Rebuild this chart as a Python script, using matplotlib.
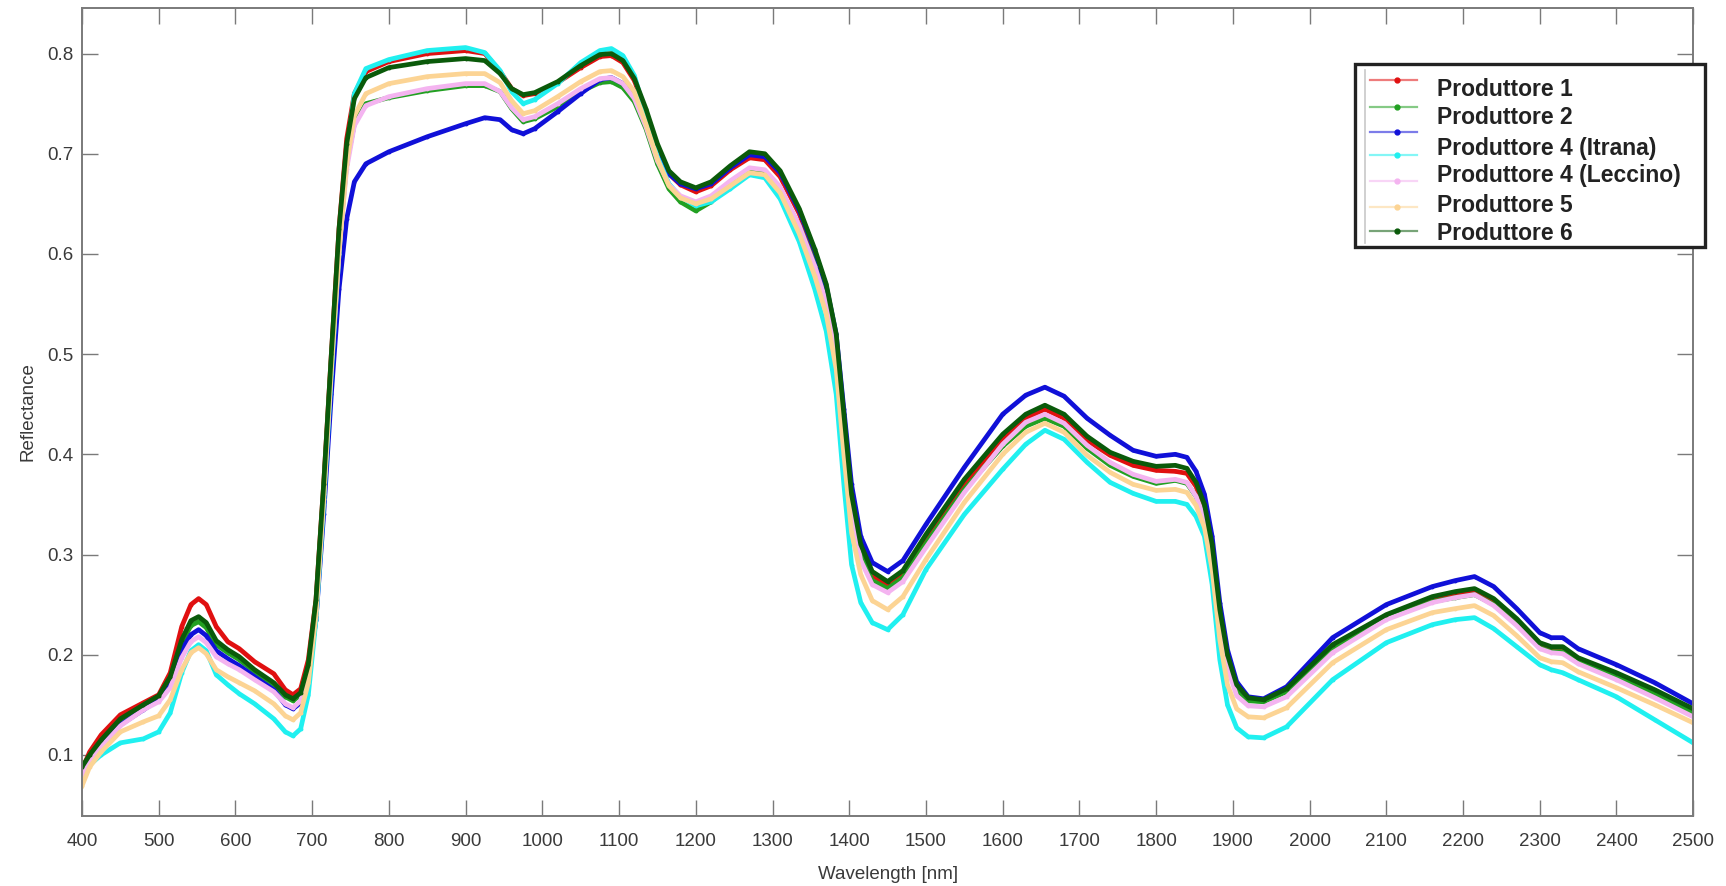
import numpy as np
import matplotlib
matplotlib.use("Agg")
import matplotlib.pyplot as plt
from matplotlib.lines import Line2D
from matplotlib.patches import Rectangle

plt.rcParams['font.family'] = ['Liberation Sans', 'DejaVu Sans']

# === DATI ===
wavelength = [400, 410, 425, 450, 480, 500, 515, 530, 542, 552,
              562, 575, 590, 605, 625, 650, 665, 675, 685, 695,
              705, 715, 725, 735, 745, 755, 770, 800, 850, 900,
              925, 945, 960, 975, 990, 1020, 1050, 1075, 1090, 1105,
              1120, 1135, 1150, 1165, 1180, 1200, 1220, 1245, 1270, 1290,
              1310, 1335, 1355, 1370, 1383, 1393, 1403, 1415, 1430, 1450,
              1470, 1500, 1550, 1600, 1630, 1655, 1680, 1710, 1740, 1770,
              1800, 1825, 1840, 1852, 1863, 1873, 1883, 1893, 1905, 1920,
              1940, 1970, 2030, 2100, 2160, 2190, 2215, 2240, 2270, 2300,
              2315, 2330, 2350, 2400, 2450, 2500]

red = [0.085, 0.103, 0.120, 0.140, 0.152, 0.160, 0.182, 0.228, 0.250, 0.256,
       0.250, 0.228, 0.213, 0.206, 0.193, 0.181, 0.165, 0.160, 0.166, 0.195,
       0.255, 0.37, 0.50, 0.625, 0.715, 0.760, 0.782, 0.792, 0.800, 0.803,
       0.800, 0.782, 0.765, 0.758, 0.760, 0.771, 0.786, 0.797, 0.798, 0.791,
       0.773, 0.742, 0.706, 0.680, 0.669, 0.662, 0.668, 0.684, 0.696, 0.694,
       0.677, 0.640, 0.600, 0.565, 0.515, 0.435, 0.355, 0.305, 0.279, 0.270,
       0.281, 0.316, 0.371, 0.416, 0.436, 0.445, 0.436, 0.414, 0.399, 0.389,
       0.384, 0.383, 0.381, 0.368, 0.346, 0.306, 0.242, 0.198, 0.168, 0.156,
       0.154, 0.165, 0.208, 0.238, 0.256, 0.261, 0.264, 0.254, 0.234, 0.210,
       0.206, 0.206, 0.195, 0.180, 0.163, 0.144]

green = [0.083, 0.098, 0.113, 0.134, 0.148, 0.157, 0.175, 0.212, 0.229, 0.233,
         0.227, 0.210, 0.202, 0.195, 0.183, 0.170, 0.158, 0.154, 0.160, 0.188,
         0.250, 0.365, 0.495, 0.610, 0.690, 0.730, 0.750, 0.756, 0.763, 0.768,
         0.768, 0.762, 0.745, 0.732, 0.735, 0.747, 0.762, 0.771, 0.772, 0.766,
         0.752, 0.725, 0.690, 0.665, 0.652, 0.643, 0.652, 0.668, 0.682, 0.681,
         0.664, 0.628, 0.590, 0.555, 0.505, 0.425, 0.350, 0.300, 0.274, 0.266,
         0.277, 0.311, 0.365, 0.408, 0.428, 0.436, 0.428, 0.406, 0.389, 0.378,
         0.371, 0.374, 0.371, 0.358, 0.337, 0.298, 0.236, 0.193, 0.165, 0.154,
         0.153, 0.163, 0.205, 0.236, 0.253, 0.257, 0.260, 0.250, 0.230, 0.207,
         0.203, 0.203, 0.193, 0.178, 0.161, 0.142]

blue = [0.085, 0.098, 0.112, 0.130, 0.145, 0.155, 0.172, 0.205, 0.220, 0.225,
        0.219, 0.204, 0.196, 0.189, 0.178, 0.165, 0.150, 0.146, 0.152, 0.180,
        0.235, 0.34, 0.46, 0.565, 0.635, 0.672, 0.690, 0.702, 0.717, 0.730,
        0.736, 0.734, 0.724, 0.720, 0.725, 0.742, 0.760, 0.774, 0.776, 0.770,
        0.757, 0.735, 0.703, 0.680, 0.670, 0.665, 0.670, 0.686, 0.699, 0.697,
        0.681, 0.643, 0.603, 0.568, 0.520, 0.445, 0.370, 0.318, 0.292, 0.283,
        0.294, 0.330, 0.387, 0.440, 0.459, 0.467, 0.458, 0.436, 0.419, 0.404,
        0.398, 0.400, 0.397, 0.383, 0.360, 0.318, 0.252, 0.205, 0.173, 0.158,
        0.156, 0.168, 0.217, 0.250, 0.268, 0.274, 0.278, 0.268, 0.246, 0.222,
        0.217, 0.217, 0.206, 0.190, 0.172, 0.151]

cyan = [0.076, 0.090, 0.100, 0.112, 0.116, 0.123, 0.142, 0.182, 0.204, 0.210,
        0.204, 0.180, 0.170, 0.161, 0.151, 0.136, 0.123, 0.119, 0.126, 0.160,
        0.235, 0.35, 0.48, 0.600, 0.700, 0.760, 0.785, 0.794, 0.803, 0.806,
        0.801, 0.783, 0.762, 0.750, 0.754, 0.770, 0.791, 0.803, 0.805, 0.798,
        0.778, 0.738, 0.697, 0.670, 0.657, 0.648, 0.652, 0.665, 0.679, 0.676,
        0.655, 0.612, 0.565, 0.523, 0.460, 0.370, 0.290, 0.252, 0.232, 0.225,
        0.240, 0.285, 0.340, 0.385, 0.410, 0.424, 0.415, 0.392, 0.372, 0.361,
        0.353, 0.353, 0.350, 0.338, 0.318, 0.270, 0.195, 0.150, 0.127, 0.118,
        0.117, 0.128, 0.175, 0.212, 0.230, 0.235, 0.237, 0.226, 0.208, 0.190,
        0.185, 0.182, 0.175, 0.158, 0.135, 0.112]

pink = [0.079, 0.094, 0.108, 0.129, 0.145, 0.153, 0.167, 0.197, 0.213, 0.218,
        0.212, 0.198, 0.191, 0.185, 0.175, 0.163, 0.151, 0.147, 0.154, 0.182,
        0.245, 0.36, 0.49, 0.605, 0.685, 0.728, 0.748, 0.757, 0.765, 0.770,
        0.770, 0.762, 0.746, 0.734, 0.737, 0.750, 0.765, 0.775, 0.776, 0.770,
        0.755, 0.727, 0.693, 0.669, 0.658, 0.652, 0.658, 0.673, 0.686, 0.684,
        0.667, 0.628, 0.588, 0.552, 0.500, 0.418, 0.340, 0.294, 0.270, 0.262,
        0.273, 0.307, 0.362, 0.410, 0.432, 0.440, 0.431, 0.409, 0.392, 0.380,
        0.373, 0.375, 0.372, 0.358, 0.336, 0.295, 0.230, 0.187, 0.159, 0.149,
        0.148, 0.158, 0.202, 0.235, 0.252, 0.257, 0.260, 0.249, 0.229, 0.206,
        0.202, 0.201, 0.191, 0.175, 0.157, 0.138]

peach = [0.069, 0.088, 0.103, 0.123, 0.133, 0.139, 0.155, 0.185, 0.202, 0.207,
         0.201, 0.185, 0.178, 0.172, 0.164, 0.151, 0.139, 0.135, 0.142, 0.172,
         0.240, 0.355, 0.485, 0.600, 0.690, 0.738, 0.760, 0.770, 0.777, 0.780,
         0.780, 0.771, 0.753, 0.740, 0.743, 0.757, 0.772, 0.782, 0.783, 0.777,
         0.762, 0.730, 0.695, 0.668, 0.656, 0.650, 0.655, 0.668, 0.681, 0.679,
         0.661, 0.620, 0.578, 0.540, 0.485, 0.400, 0.322, 0.280, 0.254, 0.245,
         0.258, 0.295, 0.352, 0.400, 0.422, 0.431, 0.422, 0.399, 0.382, 0.370,
         0.364, 0.365, 0.362, 0.349, 0.327, 0.285, 0.215, 0.170, 0.146, 0.138,
         0.137, 0.147, 0.192, 0.225, 0.242, 0.246, 0.249, 0.239, 0.219, 0.197,
         0.193, 0.192, 0.183, 0.167, 0.150, 0.132]

dark_green = [0.088, 0.100, 0.115, 0.136, 0.150, 0.159, 0.178, 0.215, 0.234, 0.238,
              0.232, 0.214, 0.205, 0.198, 0.185, 0.172, 0.160, 0.156, 0.162, 0.190,
              0.255, 0.37, 0.50, 0.625, 0.710, 0.755, 0.776, 0.786, 0.792, 0.795,
              0.793, 0.780, 0.765, 0.759, 0.761, 0.772, 0.788, 0.799, 0.800, 0.793,
              0.775, 0.745, 0.710, 0.683, 0.672, 0.666, 0.672, 0.688, 0.702, 0.700,
              0.683, 0.645, 0.605, 0.570, 0.520, 0.440, 0.360, 0.310, 0.283, 0.273,
              0.284, 0.320, 0.375, 0.420, 0.440, 0.449, 0.440, 0.418, 0.402, 0.393,
              0.388, 0.389, 0.386, 0.372, 0.350, 0.310, 0.245, 0.200, 0.170, 0.157,
              0.155, 0.166, 0.210, 0.240, 0.258, 0.263, 0.266, 0.256, 0.236, 0.212,
              0.208, 0.208, 0.197, 0.182, 0.165, 0.146]

series = [red, green, blue, cyan, pink, peach, dark_green]
colors = ['#e01010', '#22a022', '#1010d8', '#20f0f0', '#f4b4f0', '#fcd494', '#0a5a0a']
legend_labels = ['Produttore 1', 'Produttore 2', 'Produttore 4 (Itrana)',
                 'Produttore 4 (Leccino)', 'Produttore 5', 'Produttore 6']

# === FIGURA ===
fig = plt.figure(figsize=(17.26, 8.86), dpi=100)
ax = fig.add_axes([0.0475, 0.079, 0.9335, 0.912])

for vals, col in zip(series, colors):
    ax.plot(wavelength, vals, color=col, linewidth=3.4, marker='.',
            markersize=3.5, solid_joinstyle='round')

ax.set_xlim(400, 2500)
ax.set_ylim(0.039, 0.8455)
ax.set_xticks(np.arange(400, 2501, 100))
ax.set_yticks(np.arange(0.1, 0.81, 0.1))
ax.set_yticklabels([f"{v:.1f}" for v in np.arange(0.1, 0.81, 0.1)])

grey = '#7a7a7a'
for sp in ax.spines.values():
    sp.set_color(grey)
    sp.set_linewidth(1.4)
ax.tick_params(direction='in', length=11.5, width=1.0, color=grey,
               top=True, right=True, labelsize=13.5, labelcolor='#3a3a3a')
ax.tick_params(axis='x', pad=12)
ax.tick_params(axis='y', pad=6)

ax.set_xlabel("Wavelength [nm]", fontsize=13.5, color='#3a3a3a', labelpad=12)
ax.set_ylabel("Reflectance", fontsize=13.5, color='#3a3a3a', labelpad=8)

# === LEGENDA (7 campioni, 6 etichette) ===
W, H = 1726.0, 886.0
box = Rectangle((1355 / W, 1 - 247 / H), 350 / W, 183 / H, transform=fig.transFigure,
                facecolor='white', edgecolor='#222222', linewidth=2.4, zorder=5)
fig.add_artist(box)
fig.add_artist(Line2D([1365 / W, 1365 / W], [1 - 70 / H, 1 - 243 / H],
                      transform=fig.transFigure, color='#c8c8c8', linewidth=1.2, zorder=6))
row_y = [80, 107, 132, 155, 181, 207, 231]
for yy, col in zip(row_y, colors):
    fig.add_artist(Line2D([1370 / W, 1417 / W], [1 - yy / H, 1 - yy / H],
                          transform=fig.transFigure, color=col, alpha=0.55,
                          linewidth=1.6, zorder=6))
    fig.add_artist(Line2D([1397 / W], [1 - yy / H], transform=fig.transFigure,
                          color=col, marker='o', markersize=3.5, linestyle='none', zorder=7))
text_y = [90, 118, 148, 176, 205, 233]
for yy, lab in zip(text_y, legend_labels):
    fig.text(1437 / W, 1 - yy / H, lab, fontsize=16.5, fontweight='bold',
             color='#222222', va='center', ha='left', zorder=7)

fig.savefig("out.png", dpi=100)
